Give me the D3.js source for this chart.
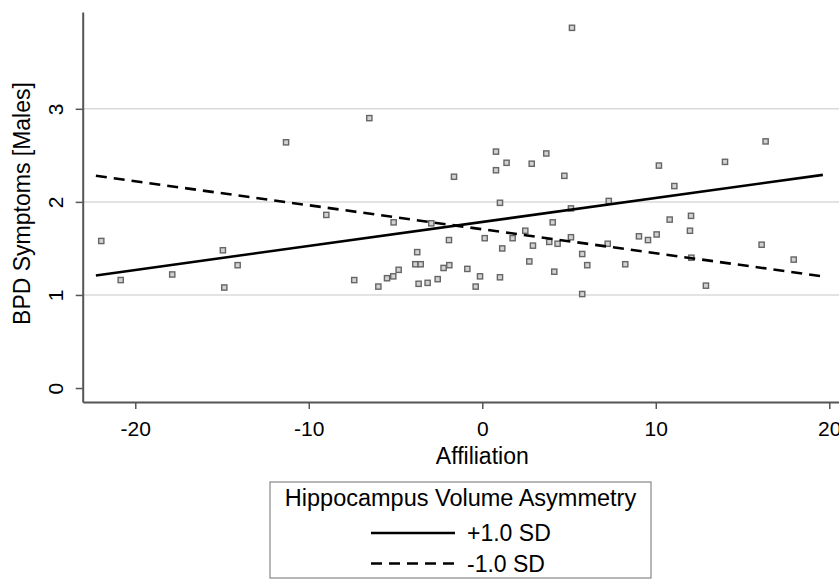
<!DOCTYPE html>
<html>
<head>
<meta charset="utf-8">
<script src="https://d3js.org/d3.v7.min.js"></script>
<style>
    body { margin: 0; background: #fff; }
    svg text { font-family: "Liberation Sans", Arial, Helvetica, sans-serif; fill: #000; }
</style>
</head>
<body>
<div id="chart"></div>
<script>
// observed points (Affiliation, BPD symptoms)
const affiliation = [
    -21.96, -20.84, -17.87, -14.95, -14.10, -14.87,
    -11.31, -6.51, -1.63, -8.99, -5.11, -2.94, -1.92, -3.75, -3.86, -3.55, -2.23, -1.90, -4.82, -5.13,
    -5.49, -7.38, -5.99, -3.67, -3.15, -2.57,
    0.79, 3.69, 1.40, 2.85, 0.79, 4.73, 1.02, 7.29, 5.11, 4.06, 2.48, 0.14, 1.75, 5.11, 9.03, 9.55,
    1.15, 2.92, 3.86, 4.34, 7.23, 5.76, 2.71, 6.05, 8.24, -0.86, -0.13, 1.02, 4.15, -0.38, 5.76,
    5.17,
    16.33, 13.99, 10.18, 11.07, 12.03, 10.80, 11.97, 10.05, 16.10, 17.95, 12.05, 12.89
];
const bpdSymptoms = [
    1.58, 1.16, 1.22, 1.48, 1.32, 1.08,
    2.64, 2.90, 2.27, 1.86, 1.78, 1.77, 1.59, 1.46, 1.33, 1.33, 1.29, 1.32, 1.27, 1.20,
    1.18, 1.16, 1.09, 1.12, 1.13, 1.17,
    2.54, 2.52, 2.42, 2.41, 2.34, 2.28, 1.99, 2.01, 1.93, 1.78, 1.69, 1.61, 1.61, 1.62, 1.63, 1.59,
    1.50, 1.53, 1.57, 1.55, 1.55, 1.44, 1.36, 1.32, 1.33, 1.28, 1.20, 1.19, 1.25, 1.09, 1.01,
    3.87,
    2.65, 2.43, 2.39, 2.17, 1.85, 1.81, 1.69, 1.65, 1.54, 1.38, 1.40, 1.10
];

// fitted lines at +/- 1 SD hippocampus asymmetry
const lineX = [-22.27, 19.63];
const plusSD = [1.21, 2.29];
const minusSD = [2.28, 1.20];

const xTicks = [-20, -10, 0, 10, 20];
const yTicks = [0, 1, 2, 3];
const gridValues = [1, 2, 3];
const legendTitle = 'Hippocampus Volume Asymmetry';
const legendLabels = ['+1.0 SD', '-1.0 SD'];

const width = 839, height = 579;

const svg = d3.select('#chart')
    .append('svg')
    .attr('width', width)
    .attr('height', height);

const xScale = d3.scaleLinear()
    .domain([-23.03, 20.56])
    .range([82.7, 839]);

const yScale = d3.scaleLinear()
    .domain([-0.15, 4.04])
    .range([402, 12]);

// grid lines
svg.selectAll('.grid')
    .data(gridValues)
    .enter()
    .append('line')
    .attr('x1', xScale.range()[0])
    .attr('x2', xScale.range()[1])
    .attr('y1', d => yScale(d))
    .attr('y2', d => yScale(d))
    .attr('stroke', '#dadada')
    .attr('stroke-width', 1.5);

// axes (plain hyphen minus, integer labels)
const xAxis = svg.append('g')
    .attr('transform', `translate(0, ${yScale.range()[0]})`)
    .call(d3.axisBottom(xScale).tickValues(xTicks).tickFormat(d => String(d))
        .tickSize(7).tickPadding(12).tickSizeOuter(0));

const yAxis = svg.append('g')
    .attr('transform', `translate(${xScale.range()[0]}, 0)`)
    .call(d3.axisLeft(yScale).tickValues(yTicks).tickFormat(d => String(d))
        .tickSize(7).tickSizeOuter(0));

[xAxis, yAxis].forEach(function(ax) {
    ax.select('.domain').attr('stroke', '#555').attr('stroke-width', 2);
    ax.selectAll('.tick line').attr('stroke', '#555').attr('stroke-width', 1.5);
    ax.selectAll('.tick text').attr('font-size', '21px').attr('fill', '#000');
});

yAxis.selectAll('.tick text')
    .attr('x', 0)
    .attr('y', 0)
    .attr('dy', 0)
    .attr('text-anchor', 'middle')
    .attr('transform', 'translate(-19.5, 0) rotate(-90)');

// points
svg.selectAll('.pt')
    .data(affiliation)
    .enter()
    .append('rect')
    .attr('x', d => xScale(d) - 2.6)
    .attr('y', (d, i) => yScale(bpdSymptoms[i]) - 2.6)
    .attr('width', 5.2)
    .attr('height', 5.2)
    .attr('fill', '#d2d2d2')
    .attr('stroke', '#666')
    .attr('stroke-width', 1.4);

// fitted lines
const line = d3.line()
    .x((d, i) => xScale(lineX[i]))
    .y(d => yScale(d));

svg.append('path')
    .datum(plusSD)
    .attr('d', line)
    .attr('fill', 'none')
    .attr('stroke', '#000')
    .attr('stroke-width', 2.6);

svg.append('path')
    .datum(minusSD)
    .attr('d', line)
    .attr('fill', 'none')
    .attr('stroke', '#000')
    .attr('stroke-width', 2.6)
    .attr('stroke-dasharray', '11,7');

// axis titles
svg.append('text')
    .attr('x', xScale(0))
    .attr('y', 456)
    .attr('dy', '0.35em')
    .attr('text-anchor', 'middle')
    .attr('font-size', '23px')
    .text('Affiliation');

svg.append('text')
    .attr('transform', 'translate(30, 203.5) rotate(-90)')
    .attr('text-anchor', 'middle')
    .attr('font-size', '23px')
    .text('BPD Symptoms [Males]');

// legend
const legend = svg.append('g');

legend.append('rect')
    .attr('x', 270)
    .attr('y', 482)
    .attr('width', 381)
    .attr('height', 96)
    .attr('fill', '#fff')
    .attr('stroke', '#888')
    .attr('stroke-width', 1.2);

legend.append('text')
    .attr('x', 460.5)
    .attr('y', 498)
    .attr('dy', '0.35em')
    .attr('text-anchor', 'middle')
    .attr('font-size', '23.5px')
    .text(legendTitle);

const entries = legend.selectAll('.entry')
    .data(legendLabels)
    .enter()
    .append('g')
    .attr('transform', (d, i) => `translate(0, ${533 + i * 30.5})`);

entries.append('line')
    .attr('x1', 371)
    .attr('x2', 455)
    .attr('stroke', '#000')
    .attr('stroke-width', 2.6)
    .attr('stroke-dasharray', (d, i) => i === 1 ? '11,7' : null);

entries.append('text')
    .attr('x', 467)
    .attr('dy', '0.35em')
    .attr('font-size', '23px')
    .text(d => d);
</script>
</body>
</html>
